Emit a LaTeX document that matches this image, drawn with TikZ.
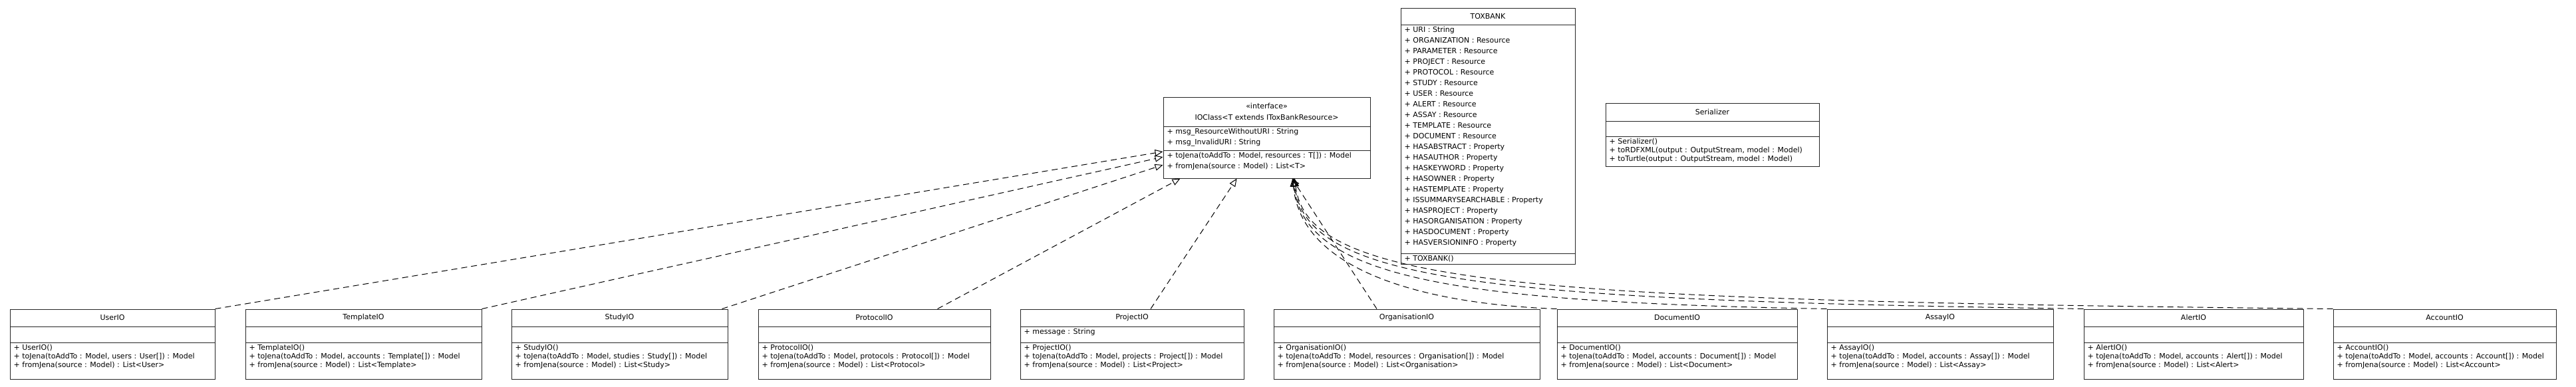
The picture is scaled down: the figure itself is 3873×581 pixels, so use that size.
\documentclass[tikz,border=0pt]{standalone}
\usepackage{fontspec}
\setmainfont{DejaVu Sans}
\usetikzlibrary{arrows.meta, positioning, fit}

\tikzset{
  classbox/.style={draw=black!85, line width=1pt, inner sep=0pt, fill=white},
  divider/.style={draw=black!85, line width=1pt},
  classtitle/.style={font=\fontsize{11}{13}\selectfont, inner sep=0pt, align=center},
  members/.style={font=\fontsize{11}{13}\selectfont, inner sep=0pt, align=left, anchor=north west},
  realize/.style={dashed, dash pattern=on 9pt off 6pt, line width=1pt, -{Triangle[open, length=12pt, width=10pt]}},
}

% one class box: name, top left, bottom right, divider rows, title, attributes, operations
\newcommand{\umlclass}[8]{%
  \node[classbox, fit={#2 #3}] (#1) {};
  \draw[divider] (#1.west |- 0,#4) -- (#1.east |- 0,#4);
  \draw[divider] (#1.west |- 0,#5) -- (#1.east |- 0,#5);
  \path (#1.north) -- (#1.north |- 0,#4) node[midway, classtitle] {#6};
  \path (#1.west |- 0,#4) ++(6,3) node[members] {#7};
  \path (#1.west |- 0,#5) ++(6,3) node[members] {#8};
}

\begin{document}
\begin{tikzpicture}[x=1pt, y=-1pt]
    \fill[white] (0,0) rectangle (3873,581);
    \useasboundingbox (0,0) rectangle (3873,581);

    % Interface and the two helper classes
    \begin{scope}[members/.append style={font=\fontsize{11}{16}\selectfont},
                  classtitle/.append style={font=\fontsize{11}{17}\selectfont}]
    \umlclass{ioclass}{(1749,146)}{(2060,268)}{190}{226}
      {«interface»\\IOClass<T extends IToxBankResource>}
      {+ msg\_ResourceWithoutURI : String\\+ msg\_InvalidURI : String}
      {+ toJena(toAddTo : Model, resources : T[]) : Model\\+ fromJena(source : Model) : List<T>}
    \umlclass{toxbank}{(2106,12)}{(2368,397)}{37}{381}
      {TOXBANK}
      {+ URI : String\\+ ORGANIZATION : Resource\\+ PARAMETER : Resource\\+ PROJECT : Resource\\
       + PROTOCOL : Resource\\+ STUDY : Resource\\+ USER : Resource\\+ ALERT : Resource\\
       + ASSAY : Resource\\+ TEMPLATE : Resource\\+ DOCUMENT : Resource\\+ HASABSTRACT : Property\\
       + HASAUTHOR : Property\\+ HASKEYWORD : Property\\+ HASOWNER : Property\\+ HASTEMPLATE : Property\\
       + ISSUMMARYSEARCHABLE : Property\\+ HASPROJECT : Property\\+ HASORGANISATION : Property\\
       + HASDOCUMENT : Property\\+ HASVERSIONINFO : Property}
      {+ TOXBANK()}
    \end{scope}
    \umlclass{serializer}{(2414,155)}{(2735,250)}{182}{205}
      {Serializer}{}
      {+ Serializer()\\+ toRDFXML(output : OutputStream, model : Model)\\+ toTurtle(output : OutputStream, model : Model)}

    % IO implementations
    \foreach \n/\xa/\xb/\t/\a/\o in {
      userio/15/323/UserIO/{}/{+ UserIO()\\+ toJena(toAddTo : Model, users : User[]) : Model\\+ fromJena(source : Model) : List<User>},
      templateio/369/724/TemplateIO/{}/{+ TemplateIO()\\+ toJena(toAddTo : Model, accounts : Template[]) : Model\\+ fromJena(source : Model) : List<Template>},
      studyio/769/1094/StudyIO/{}/{+ StudyIO()\\+ toJena(toAddTo : Model, studies : Study[]) : Model\\+ fromJena(source : Model) : List<Study>},
      protocolio/1140/1489/ProtocolIO/{}/{+ ProtocolIO()\\+ toJena(toAddTo : Model, protocols : Protocol[]) : Model\\+ fromJena(source : Model) : List<Protocol>},
      projectio/1534/1870/ProjectIO/{+ message : String}/{+ ProjectIO()\\+ toJena(toAddTo : Model, projects : Project[]) : Model\\+ fromJena(source : Model) : List<Project>},
      organisationio/1915/2315/OrganisationIO/{}/{+ OrganisationIO()\\+ toJena(toAddTo : Model, resources : Organisation[]) : Model\\+ fromJena(source : Model) : List<Organisation>},
      documentio/2341/2702/DocumentIO/{}/{+ DocumentIO()\\+ toJena(toAddTo : Model, accounts : Document[]) : Model\\+ fromJena(source : Model) : List<Document>},
      assayio/2747/3087/AssayIO/{}/{+ AssayIO()\\+ toJena(toAddTo : Model, accounts : Assay[]) : Model\\+ fromJena(source : Model) : List<Assay>},
      alertio/3133/3463/AlertIO/{}/{+ AlertIO()\\+ toJena(toAddTo : Model, accounts : Alert[]) : Model\\+ fromJena(source : Model) : List<Alert>},
      accountio/3508/3843/AccountIO/{}/{+ AccountIO()\\+ toJena(toAddTo : Model, accounts : Account[]) : Model\\+ fromJena(source : Model) : List<Account>}}
    \umlclass{\n}{(\xa,465)}{(\xb,570)}{491}{515}{\t}{\a}{\o};

    % Realizations
    \draw[realize] (userio.north east) -- ([yshift=-21pt]ioclass.west);
    \draw[realize] (templateio.north east) -- ([yshift=-29pt]ioclass.west);
    \draw[realize] ([xshift=-9pt]studyio.north east) -- ([yshift=-41pt]ioclass.west);
    \draw[realize] ([xshift=95pt]protocolio.north) -- ([xshift=26pt]ioclass.south west);
    \draw[realize] ([xshift=28pt]projectio.north) -- ([xshift=-45pt]ioclass.south);
    \draw[realize] ([xshift=-45pt]organisationio.north) -- ([xshift=38pt]ioclass.south);
    \draw[realize] (documentio.north west) .. controls +(-191,-7) and +(13,142) .. ([xshift=39pt]ioclass.south);
    \draw[realize] (assayio.north west) .. controls +(-547,-10) and +(15,152) .. ([xshift=40pt]ioclass.south);
    \draw[realize] (alertio.north west) .. controls +(-883,-13) and +(17,157) .. ([xshift=41pt]ioclass.south);
    \draw[realize] (accountio.north west) .. controls +(-1208,-13) and +(20,162) .. ([xshift=42pt]ioclass.south);
\end{tikzpicture}
\end{document}
